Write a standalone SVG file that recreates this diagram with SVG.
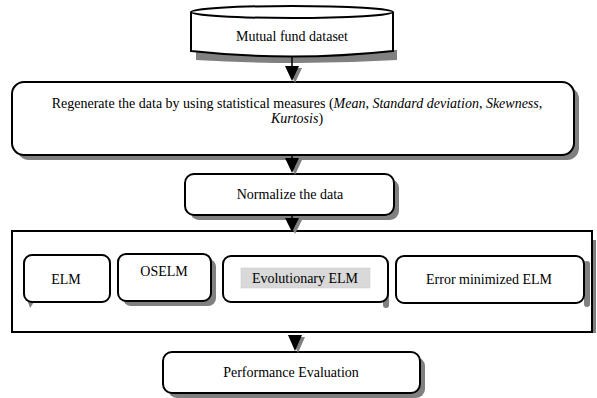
<svg xmlns="http://www.w3.org/2000/svg" width="597" height="398" viewBox="0 0 597 398">
<style>
.box{fill:#fff;stroke:#000;stroke-width:2}
.shadow{fill:#808080;stroke:none}
text{font-family:'Liberation Serif','Times New Roman','DejaVu Serif',serif;font-size:14px;fill:#000;text-anchor:middle}
.ln{stroke:#000;stroke-width:1.5}
.ah{fill:#000}
.ahs{fill:#808080}
</style>
<rect width="597" height="398" fill="#fff"/>
<g id="dataset">
<path class="shadow" d="M196,50 L397,50 L397,60 Q297,66 196,60 Z"/>
<path class="box" d="M191,12 L191,51 Q292,62 393,51 L393,12"/>
<ellipse class="box" cx="292" cy="12" rx="101" ry="6"/>
<text x="292" y="41">Mutual fund dataset</text>
</g>
<g id="regenerate">
<rect class="shadow" x="17" y="87" width="562" height="73" rx="12"/>
<rect class="box" x="12" y="82" width="562" height="73" rx="12"/>
<text x="297" y="108">Regenerate the data by using statistical measures (<tspan font-style="italic">Mean</tspan>, <tspan font-style="italic">Standard deviation</tspan>, <tspan font-style="italic">Skewness</tspan>,</text>
<text x="297" y="123"><tspan font-style="italic">Kurtosis</tspan>)</text>
</g>
<g id="normalize">
<rect class="shadow" x="190" y="179" width="209" height="41" rx="9"/>
<rect class="box" x="185" y="174" width="209" height="41" rx="9"/>
<text x="290" y="199">Normalize the data</text>
</g>
<g id="models">
<rect class="shadow" x="592" y="240" width="4" height="93"/>
<rect x="12" y="231" width="580" height="101" fill="#fff" stroke="#000" stroke-width="2"/>
</g>
<g id="elm">
<path class="shadow" d="M28,302 L34,302 L30,308 Z"/>
<rect class="box" x="24" y="255" width="86" height="47" rx="8"/>
<text x="66" y="284">ELM</text>
</g>
<g id="oselm">
<rect class="shadow" x="123" y="259" width="93" height="47" rx="8"/>
<rect class="box" x="118" y="254" width="93" height="47" rx="8"/>
<text x="164" y="276">OSELM</text>
</g>
<g id="evolutionary">
<rect class="shadow" x="383" y="262" width="6" height="46" rx="3"/>
<rect class="box" x="223" y="256" width="165" height="46" rx="8"/>
<rect x="241" y="268" width="129" height="20" fill="#d9d9d9" stroke="#c8c8c8" stroke-width="0.5"/>
<text x="305" y="283">Evolutionary ELM</text>
</g>
<g id="errormin">
<rect class="shadow" x="584" y="261" width="6" height="46" rx="3"/>
<rect class="box" x="396" y="256" width="188" height="47" rx="8"/>
<text x="489" y="284">Error minimized ELM</text>
</g>
<g id="performance">
<rect class="shadow" x="168" y="357" width="257" height="41" rx="9"/>
<rect class="box" x="163" y="352" width="257" height="41" rx="9"/>
<text x="291" y="377">Performance Evaluation</text>
</g>
<g id="connectors">
<line class="ln" x1="292" y1="56" x2="292" y2="66"/>
<path class="ahs" d="M288,68 L302,68 L295,83 Z"/>
<path class="ah" d="M285,66 L299,66 L292,81 Z"/>
<line class="ln" x1="292" y1="156" x2="292" y2="159"/>
<path class="ahs" d="M288,160 L302,160 L295,175 Z"/>
<path class="ah" d="M285,158 L299,158 L292,173 Z"/>
<line class="ln" x1="292" y1="215" x2="292" y2="218"/>
<path class="ahs" d="M288,220 L302,220 L295,234 Z"/>
<path class="ah" d="M285,218 L299,218 L292,232 Z"/>
<path class="ahs" d="M291,337 L305,337 L298,353 Z"/>
<path class="ah" d="M288,335 L302,335 L295,351 Z"/>
</g>
</svg>
